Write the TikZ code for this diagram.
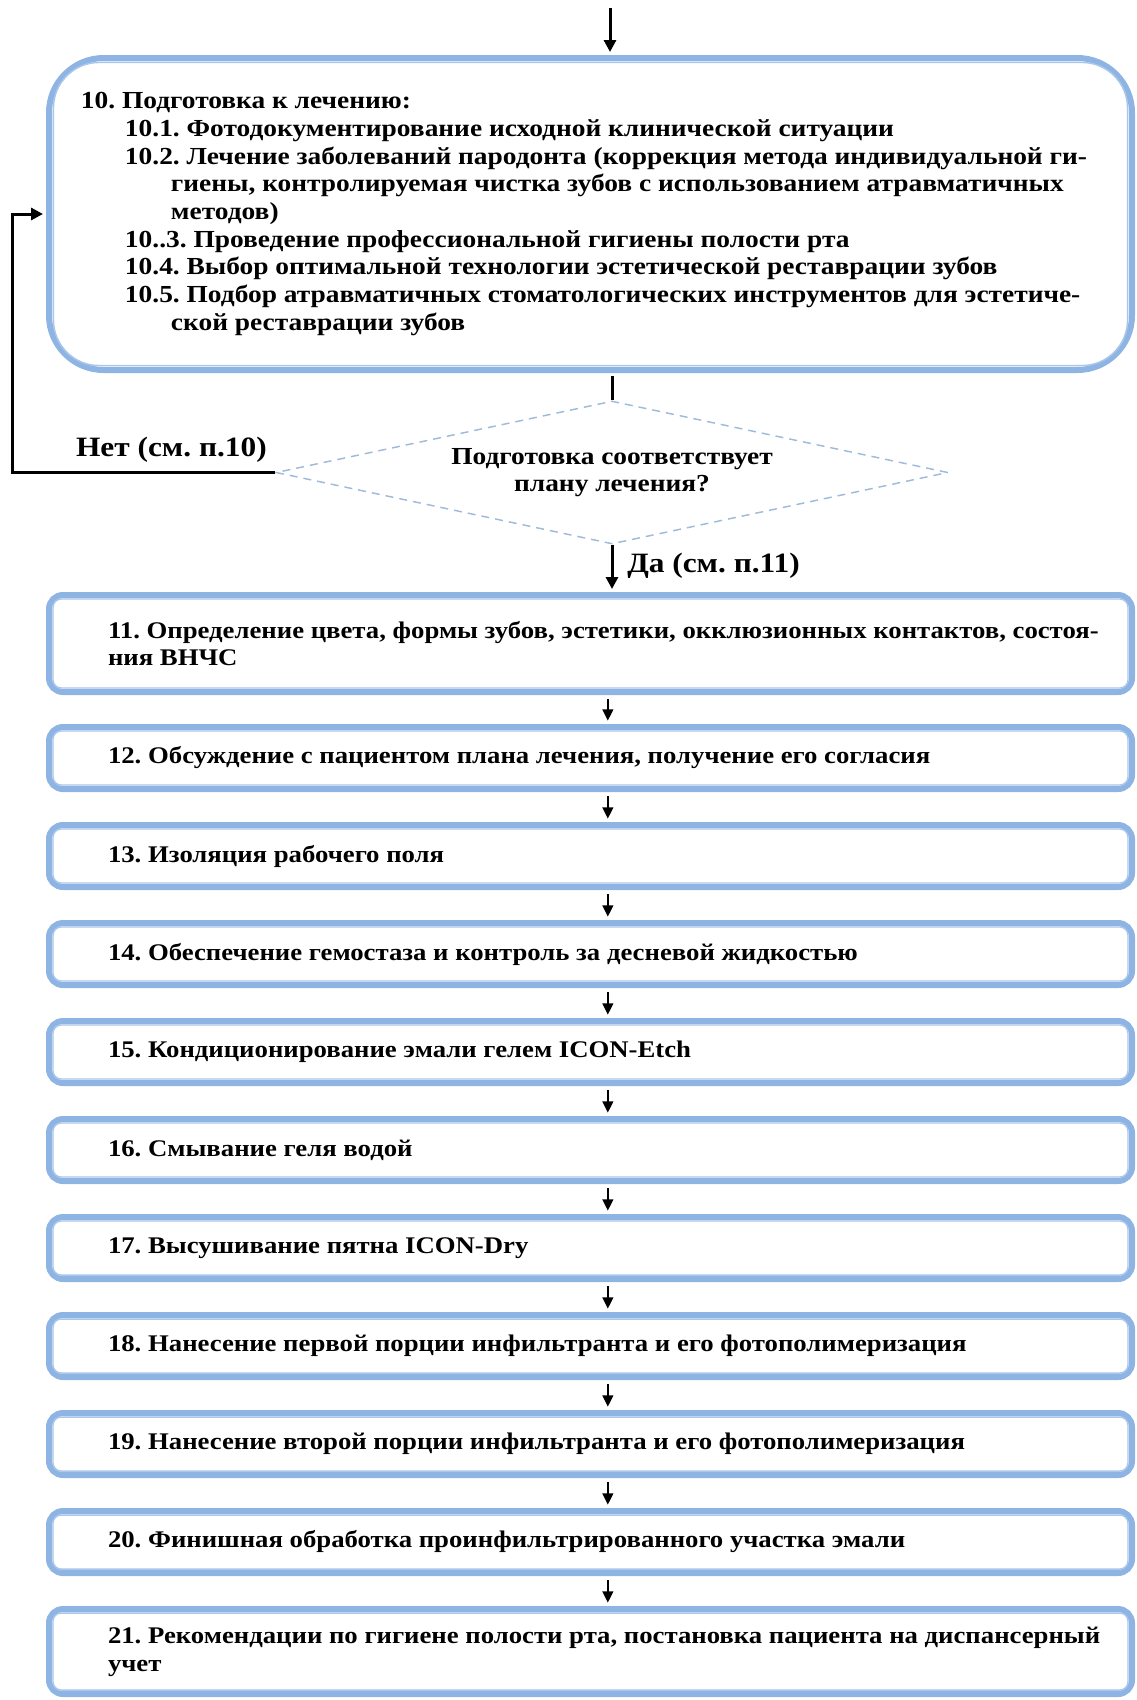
\documentclass[tikz,border=0pt]{standalone}
\usepackage{fontspec}
\setmainfont{Liberation Serif}[FakeStretch=1.12]
\usetikzlibrary{arrows.meta,shapes.geometric}
\definecolor{outerblue}{RGB}{141,180,227}
\definecolor{innerblue}{RGB}{170,198,234}
\definecolor{dashblue}{RGB}{160,186,218}
\newcommand\boxfont{\fontsize{17.9pt}{20.8pt}\selectfont\bfseries\frenchspacing}
\newcommand\topfont{\fontsize{18.35pt}{20.8pt}\selectfont\bfseries\frenchspacing}
\newcommand\lblfont{\fontsize{21pt}{23pt}\selectfont\bfseries\frenchspacing}
\newcommand\steptext[2]{\begin{minipage}{812.25pt}\raggedright\leftskip=#1\relax #2\end{minipage}}
\begin{document}
\begin{tikzpicture}[x=0.75pt,y=-0.75pt,
  stepbox/.style={draw=outerblue, line width=4.5pt, rounded corners=10.5pt, fill=white,
    minimum width=812.25pt, inner sep=0pt, font=\boxfont},
  innerline/.style={draw=innerblue, line width=1.1pt, rounded corners=6pt},
  decision/.style={diamond, draw=dashblue, line width=1.1pt, dash pattern=on 6pt off 4.5pt,
    aspect=4.7, minimum width=504pt, minimum height=107.25pt, inner sep=0pt,
    align=center, font=\topfont},
  lbl/.style={font=\lblfont, inner sep=0pt},
  flow/.style={draw=black, line width=1.6pt, -{Triangle[length=8.5pt,width=8pt]}},
  bigflow/.style={draw=black, line width=2.25pt, -{Triangle[length=9pt,width=9pt]}},
  plainline/.style={draw=black, line width=2.25pt},
]
\useasboundingbox (0,0) rectangle (1136,1700);

% top box
\node[stepbox, font=\topfont, rounded corners=41pt, minimum height=234pt] (topbox) at (590.5,214) {\steptext{24pt}{%
10. Подготовка к лечению:\\
\hspace*{33pt}10.1. Фотодокументирование исходной клинической ситуации\\
\hspace*{33pt}10.2. Лечение заболеваний пародонта (коррекция метода индивидуальной ги-\\
\hspace*{67.5pt}гиены, контролируемая чистка зубов с использованием атравматичных\\
\hspace*{67.5pt}методов)\\
\hspace*{33pt}10..3. Проведение профессиональной гигиены полости рта\\
\hspace*{33pt}10.4. Выбор оптимальной технологии эстетической реставрации зубов\\
\hspace*{33pt}10.5. Подбор атравматичных стоматологических инструментов для эстетиче-\\
\hspace*{67.5pt}ской реставрации зубов}};
\draw[innerline, rounded corners=34pt] ([xshift=5.6pt,yshift=-5.6pt]topbox.north west) rectangle ([xshift=-5.6pt,yshift=5.6pt]topbox.south east);

% decision
\node[decision] (dec) at (612,472.5) {Подготовка соответствует\\плану лечения?};
\node[lbl, anchor=east] (no) at (267,450) {Нет (см. п.10)};
\node[lbl, anchor=west] (yes) at (627,566) {Да (см. п.11)};

% steps
\node[stepbox, minimum height=72.75pt] (b11) at (590.5,643.5) {\steptext{44.25pt}{11. Определение цвета, формы зубов, эстетики, окклюзионных контактов, состоя-\\ния ВНЧС}};
\node[stepbox, minimum height=46.5pt] (b12) at (590.5,758) {\steptext{44.25pt}{12. Обсуждение с пациентом плана лечения, получение его согласия}};
\node[stepbox, minimum height=46.5pt] (b13) at (590.5,856) {\steptext{44.25pt}{13. Изоляция рабочего поля}};
\node[stepbox, minimum height=46.5pt] (b14) at (590.5,954) {\steptext{44.25pt}{14. Обеспечение гемостаза и контроль за десневой жидкостью}};
\node[stepbox, minimum height=46.5pt] (b15) at (590.5,1052) {\steptext{44.25pt}{15. Кондиционирование эмали гелем ICON-Etch}};
\node[stepbox, minimum height=46.5pt] (b16) at (590.5,1150) {\steptext{44.25pt}{16. Смывание геля водой}};
\node[stepbox, minimum height=46.5pt] (b17) at (590.5,1248) {\steptext{44.25pt}{17. Высушивание пятна ICON-Dry}};
\node[stepbox, minimum height=46.5pt] (b18) at (590.5,1346) {\steptext{44.25pt}{18. Нанесение первой порции инфильтранта и его фотополимеризация}};
\node[stepbox, minimum height=46.5pt] (b19) at (590.5,1444) {\steptext{44.25pt}{19. Нанесение второй порции инфильтранта и его фотополимеризация}};
\node[stepbox, minimum height=46.5pt] (b20) at (590.5,1542) {\steptext{44.25pt}{20. Финишная обработка проинфильтрированного участка эмали}};
\node[stepbox, minimum height=63.75pt] (b21) at (590.5,1651.5) {\steptext{44.25pt}{21. Рекомендации по гигиене полости рта, постановка пациента на диспансерный\\учет}};

\foreach \n in {b11,b12,b13,b14,b15,b16,b17,b18,b19,b20,b21}
  \draw[innerline] ([xshift=5.25pt,yshift=-5.25pt]\n.north west) rectangle ([xshift=-5.25pt,yshift=5.25pt]\n.south east);

% connectors
\coordinate (start) at (610,8);
\draw[bigflow, shorten >=2.25pt] (start) -- (start |- topbox.north);
\draw[plainline] ([yshift=-2.25pt]topbox.south -| dec.north) -- (dec.north);
\draw[bigflow, shorten >=2.25pt] (dec.south) -- (dec.south |- b11.north);
\draw[bigflow, shorten >=2.25pt] (dec.west) -- (12,472.5) |- (topbox.west);

\foreach \a/\b in {b11/b12,b12/b13,b13/b14,b14/b15,b15/b16,b16/b17,b17/b18,b18/b19,b19/b20,b20/b21}
  \draw[flow, shorten <=3pt, shorten >=2.5pt] ([xshift=13pt]\a.south) -- ([xshift=13pt]\b.north);
\end{tikzpicture}
\end{document}
